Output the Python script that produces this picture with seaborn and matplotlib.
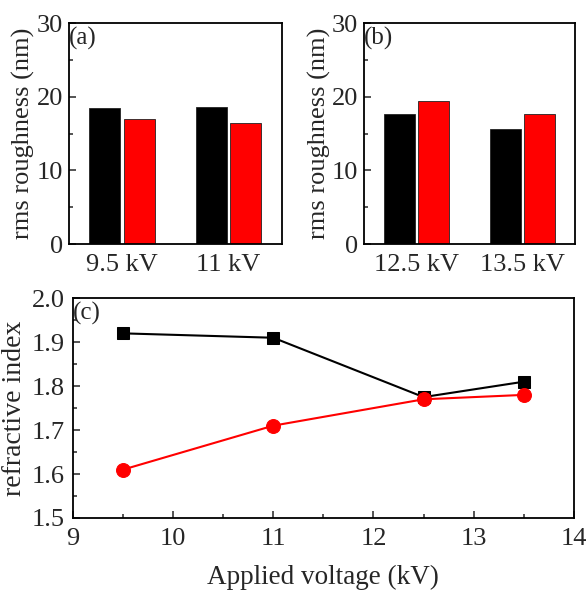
import pandas as pd
import seaborn as sns
import matplotlib.pyplot as plt
from matplotlib.ticker import MultipleLocator

# Data
volt_a = ['9.5 kV', '11 kV']
black_a = [18.5, 18.6]
red_a = [17.0, 16.4]

volt_b = ['12.5 kV', '13.5 kV']
black_b = [17.6, 15.6]
red_b = [19.4, 17.7]

voltage = [9.5, 11, 12.5, 13.5]
n_black = [1.92, 1.91, 1.775, 1.81]
n_red = [1.61, 1.71, 1.77, 1.78]

sns.set_theme(style='ticks')
plt.rcParams['font.family'] = ['Liberation Serif', 'DejaVu Serif']
plt.rcParams['xtick.direction'] = 'in'
plt.rcParams['ytick.direction'] = 'in'
plt.rcParams['axes.linewidth'] = 1.3

fig = plt.figure(figsize=(5.88, 5.94), dpi=100)
ax_a = fig.add_axes([0.117, 0.589, 0.362, 0.372])
ax_b = fig.add_axes([0.619, 0.589, 0.359, 0.372])
ax_c = fig.add_axes([0.124, 0.128, 0.852, 0.370])

def bar_panel(ax, cats, blk, rd, tag):
    df = pd.DataFrame({'voltage': cats * 2,
                       'rms': blk + rd,
                       'series': ['black'] * len(cats) + ['red'] * len(cats)})
    sns.barplot(data=df, x='voltage', y='rms', hue='series', ax=ax,
                palette={'black': 'black', 'red': '#ff0000'}, saturation=1,
                width=0.64, gap=0.09, edgecolor='#222222', linewidth=0.6,
                legend=False)
    ax.set_xlim(-0.5, 1.5)
    ax.set_ylim(0, 30)
    ax.yaxis.set_major_locator(MultipleLocator(10))
    ax.yaxis.set_minor_locator(MultipleLocator(5))
    ax.set_xlabel('')
    ax.set_ylabel('rms roughness (nm)', fontsize=19, labelpad=1)
    ax.tick_params(axis='x', length=0, labelsize=19, pad=7)
    ax.tick_params(axis='y', which='major', length=5, width=1.1,
                   labelsize=19, pad=4)
    ax.tick_params(axis='y', which='minor', length=3, width=1.1)
    ax.text(0.0, 0.985, tag, transform=ax.transAxes, fontsize=18,
            va='top', ha='left')
    for s in ax.spines.values():
        s.set_color('black')

bar_panel(ax_a, volt_a, black_a, red_a, '(a)')
bar_panel(ax_b, volt_b, black_b, red_b, '(b)')

sns.lineplot(x=voltage, y=n_black, ax=ax_c, color='black', marker='s',
             markersize=9, markeredgecolor='black', linewidth=1.5)
sns.lineplot(x=voltage, y=n_red, ax=ax_c, color='#ff0000', marker='o',
             markersize=10, markeredgecolor='#ff0000', linewidth=1.5)
ax_c.set_xlim(9, 14)
ax_c.set_ylim(1.5, 2.0)
ax_c.xaxis.set_major_locator(MultipleLocator(1))
ax_c.xaxis.set_minor_locator(MultipleLocator(0.5))
ax_c.yaxis.set_major_locator(MultipleLocator(0.1))
ax_c.yaxis.set_minor_locator(MultipleLocator(0.05))
ax_c.yaxis.set_major_formatter(plt.FormatStrFormatter('%.1f'))
ax_c.tick_params(which='major', length=5, width=1.1, labelsize=19)
ax_c.tick_params(axis='x', which='major', pad=7)
ax_c.tick_params(axis='y', which='major', pad=6)
ax_c.tick_params(which='minor', length=3, width=1.1)
ax_c.set_xlabel('Applied voltage (kV)', fontsize=19.5, labelpad=11)
ax_c.set_ylabel('refractive index', fontsize=20, labelpad=3)
ax_c.text(0.0, 0.985, '(c)', transform=ax_c.transAxes, fontsize=18,
          va='top', ha='left')
for s in ax_c.spines.values():
    s.set_color('black')

fig.savefig('out.png', dpi=100)
